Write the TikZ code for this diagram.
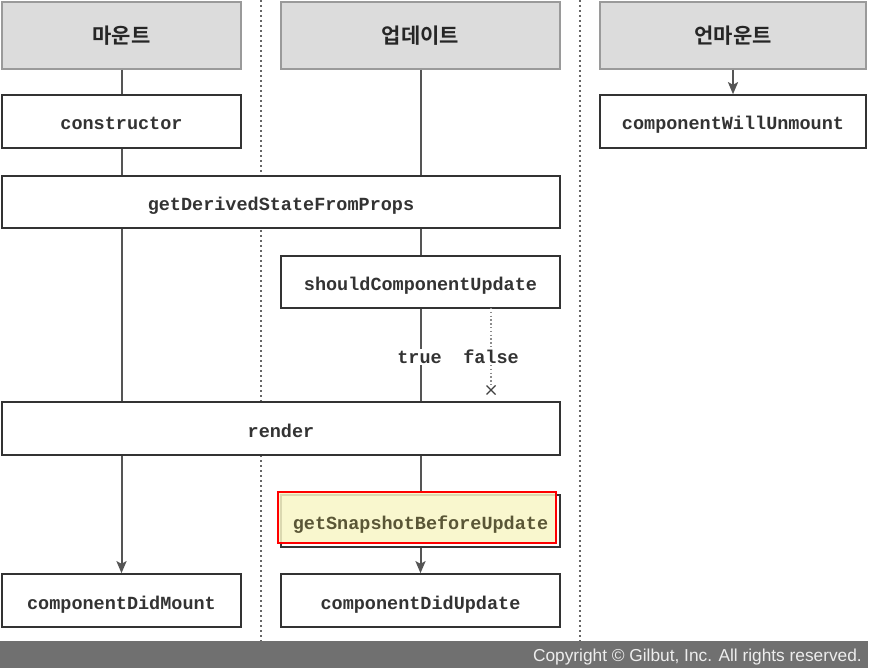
\documentclass[tikz,border=0pt]{standalone}
\usepackage{fontspec}
\setmainfont{Liberation Sans}
\setmonofont{Liberation Mono}
\newfontfamily\kr{Noto Sans CJK KR}[BoldFont={Noto Sans CJK KR Bold}]
\usetikzlibrary{arrows.meta,calc}
\definecolor{hdrfill}{HTML}{DCDCDC}
\definecolor{hdrline}{HTML}{9A9A9A}
\definecolor{boxline}{HTML}{333333}
\definecolor{conn}{HTML}{555555}
\definecolor{barfill}{HTML}{707070}
\definecolor{snapfill}{HTML}{F9F6C6}
\definecolor{snaptext}{HTML}{5A5636}
\begin{document}
\begin{tikzpicture}[x=1pt,y=-1pt,
  hdr/.style={draw=hdrline, line width=1.5pt, fill=hdrfill, inner sep=0pt, font=\kr\bfseries\fontsize{21}{25}\selectfont, text=black!85},
  fn/.style={draw=boxline, line width=1.6pt, fill=white, inner sep=0pt, text height=17pt, text depth=0pt, font=\ttfamily\bfseries\fontsize{18.5}{22}\selectfont, text=black!80},
  lbl/.style={fill=white, inner sep=1.5pt, font=\ttfamily\bfseries\fontsize{18.5}{22}\selectfont, text=black!80},
  conline/.style={draw=conn, line width=2pt},
  conarrow/.style={conline, -{Stealth[length=12pt,width=10pt,inset=2.5pt]}},
  sep/.style={draw=black!60, line width=2pt, dash pattern=on 2pt off 3pt}
]
\useasboundingbox (0,0) rectangle (872,668);
% separators
\draw[sep] (261,0) -- (261,641);
\draw[sep] (580,0) -- (580,641);
% headers
\node[hdr, minimum width=239pt, minimum height=67pt] (hm) at (121.5,35.5) {마운트};
\node[hdr, minimum width=279pt, minimum height=67pt] (hu) at (420.5,35.5) {업데이트};
\node[hdr, minimum width=266pt, minimum height=67pt] (hx) at (733,35.5) {언마운트};
% function boxes
\node[fn, minimum width=239pt, minimum height=53pt] (con) at (121.5,121.5) {constructor};
\node[fn, minimum width=558pt, minimum height=52pt] (gd) at (281,202) {getDerivedStateFromProps};
\node[fn, minimum width=279pt, minimum height=52pt] (scu) at (420.5,282) {shouldComponentUpdate};
\node[fn, minimum width=558pt, minimum height=53pt] (ren) at (281,428.5) {render};
\node[fn, minimum width=279pt, minimum height=52pt] (gs) at (420.5,521) {};
\node[fn, draw=red, line width=1.1pt, fill=snapfill, fill opacity=0.85, draw opacity=1, text opacity=1, text=snaptext, text height=24pt, minimum width=278pt, minimum height=51pt] (hl) at (417,517.5) {\hspace*{7pt}getSnapshotBeforeUpdate};
\node[fn, minimum width=239pt, minimum height=53pt] (cdm) at (121.5,600.5) {componentDidMount};
\node[fn, minimum width=279pt, minimum height=53pt] (cdu) at (420.5,600.5) {componentDidUpdate};
\node[fn, minimum width=266pt, minimum height=53pt] (cwu) at (733,121.5) {componentWillUnmount};
% mount column
\draw[conline] (hm) -- (con);
\draw[conline] (con) -- (con.south |- gd.north);
\draw[conline] (con.south |- gd.south) -- (con.south |- ren.north);
\draw[conarrow] (con.south |- ren.south) -- (cdm);
% update column
\draw[conline] (hu) -- (hu.south |- gd.north);
\draw[conline] (hu.south |- gd.south) -- (scu);
\draw[conline] (scu) -- (scu.south |- ren.north);
\draw[conline] (scu.south |- ren.south) -- (hl.north -| gs.north);
\draw[conarrow] (gs) -- (cdu);
% unmount column
\draw[conarrow] (hx) -- (cwu);
% true / false
\coordinate (xm) at (491,390);
\draw[draw=black!45, line width=1.3pt, dash pattern=on 1.3pt off 2.5pt] (491,308) -- (491,385);
\node[lbl] (tr) at (419.5,357) {true};
\node[lbl] (fa) at (491,357) {false};
\draw[black!75, line width=1.4pt] ($(xm)+(-4.5,-4.5)$) -- ($(xm)+(4.5,4.5)$) ($(xm)+(-4.5,4.5)$) -- ($(xm)+(4.5,-4.5)$);
% copyright bar
\fill[barfill] (0,641) rectangle (868,668);
\node[anchor=east, text=white!93!black, inner sep=0pt, font=\fontsize{17.3}{20}\selectfont] (cr) at (862,657) {Copyright © Gilbut, Inc. All rights reserved.};
\end{tikzpicture}
\end{document}
